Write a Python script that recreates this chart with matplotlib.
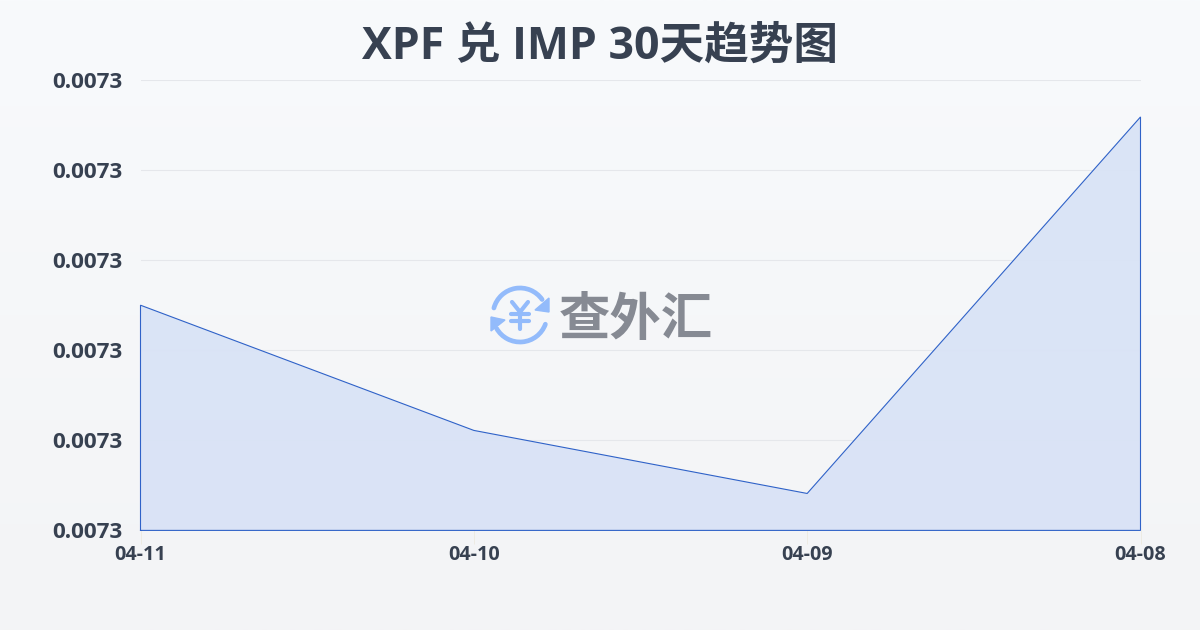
import numpy as np
import matplotlib
matplotlib.use("Agg")
import matplotlib.pyplot as plt
from matplotlib.patches import Arc, Polygon
from matplotlib.ticker import FormatStrFormatter

dates = ["04-11", "04-10", "04-09", "04-08"]
rates = [0.007305, 0.0072911, 0.0072841, 0.0073259]
y_ticks = [0.00728, 0.00729, 0.00730, 0.00731, 0.00732, 0.00733]

plt.rcParams['font.family'] = ['Noto Sans CJK SC', 'DejaVu Sans']
INK = "#374151"
LATIN = ["Open Sans", "Noto Sans CJK SC", "DejaVu Sans"]
fig = plt.figure(figsize=(12, 6.3), dpi=100)

# background gradient
bg = fig.add_axes([0, 0, 1, 1], zorder=0)
grad = np.linspace(0, 1, 256)[:, None, None]
top = np.array([248, 250, 252]) / 255
bot = np.array([243, 244, 246]) / 255
bg.imshow(top + (bot - top) * grad, aspect="auto", extent=[0, 1200, 630, 0])
bg.set_xlim(0, 1200); bg.set_ylim(630, 0)
bg.axis("off")

ax = fig.add_axes([140.5 / 1200, 1 - 530.4 / 630, 1000 / 1200, 450.4 / 630], zorder=1)
ax.patch.set_alpha(0)
x = np.arange(len(dates))
ax.fill_between(x, rates, y_ticks[0], facecolor="#d9e3f6", edgecolor="none", alpha=0.95, zorder=2)
ax.plot(list(x[:1]) + list(x) + list(x[-1:]) + list(x[:1]),
        [y_ticks[0]] + rates + [y_ticks[0], y_ticks[0]],
        color="#2f62c8", lw=0.8, zorder=3, solid_joinstyle="miter", clip_on=False)
ax.set_xlim(0, len(dates) - 1)
ax.set_ylim(y_ticks[0], y_ticks[-1])
ax.set_xticks(x, dates)
ax.set_yticks(y_ticks)
ax.yaxis.set_major_formatter(FormatStrFormatter("%.4f"))
ax.grid(axis="y", color="#e5e7eb", lw=0.8, zorder=1)
ax.set_axisbelow(True)
for s in ax.spines.values():
    s.set_visible(False)
ax.tick_params(axis="y", length=0, pad=13, labelcolor=INK)
ax.tick_params(axis="x", length=10, width=0.6, color="#eceae0", pad=0.5, labelcolor=INK)
for t in ax.get_yticklabels():
    t.set_fontsize(16.2); t.set_fontweight("bold"); t.set_family(LATIN)
for t in ax.get_xticklabels():
    t.set_fontsize(14.2); t.set_fontweight("bold"); t.set_family(LATIN)

fig.text(0.5, 1 - 47.5 / 630, "XPF 兑 IMP 30天趋势图", ha="center", va="center",
         fontsize=32.1, fontweight="bold", color=INK, family=LATIN)

# watermark logo
lg = fig.add_axes([0, 0, 1, 1], zorder=3)
lg.set_xlim(0, 1200); lg.set_ylim(630, 0); lg.axis("off"); lg.patch.set_alpha(0)
BLUE = "#93bbfb"
cx, cy, d = 520, 315, 54
lg.add_patch(Arc((cx, cy), d, d, theta1=195, theta2=325, color=BLUE, lw=3.4, capstyle="round"))
lg.add_patch(Arc((cx, cy), d, d, theta1=20, theta2=150, color=BLUE, lw=3.4, capstyle="round"))
lg.add_patch(Polygon([[549, 298], [549, 312], [535, 310]], color=BLUE))
lg.add_patch(Polygon([[491, 317], [491, 331], [505, 320]], color=BLUE))
for seg in ([(512, 302), (520, 312)], [(528, 302), (520, 312)], [(520, 312), (520, 329)],
            [(511, 314), (529, 314)], [(511, 321), (529, 321)]):
    lg.plot(*zip(*seg), color=BLUE, lw=3, solid_capstyle="round")
lg.text(635.5, 319, "查外汇", ha="center", va="center", fontsize=37, fontweight="bold", color="#868a93")

fig.savefig("out.png", dpi=100)
